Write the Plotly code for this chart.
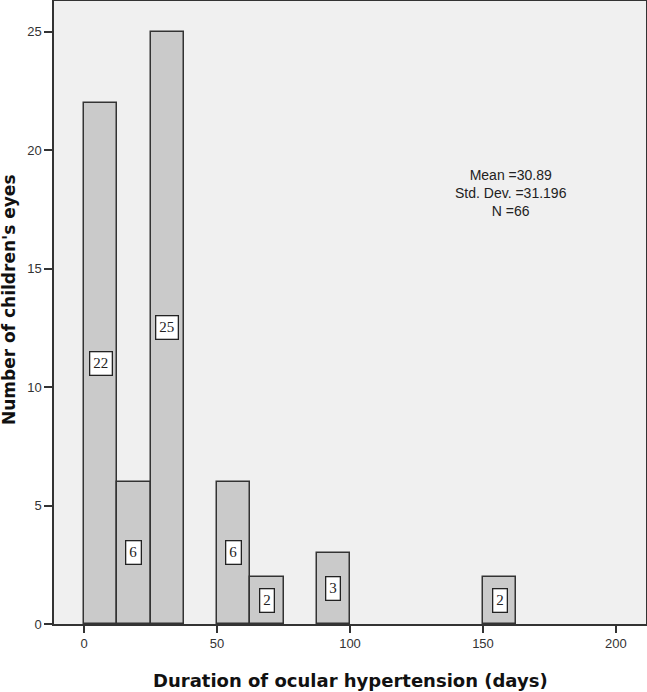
import plotly.graph_objects as go

bin_width = 12.5
bin_starts = [0, 12.5, 25, 37.5, 50, 62.5, 75, 87.5, 100, 112.5, 125, 137.5, 150]
counts = [22, 6, 25, 0, 6, 2, 0, 3, 0, 0, 0, 0, 2]
x_ticks = [0, 50, 100, 150, 200]
y_ticks = [0, 5, 10, 15, 20, 25]
stats_text = "Mean =30.89<br>Std. Dev. =31.196<br>N =66"
x_title = "Duration of ocular hypertension (days)"
y_title = "Number of children's eyes"

xs = [s + bin_width / 2 for s, c in zip(bin_starts, counts) if c > 0]
ys = [c for c in counts if c > 0]

fig = go.Figure()
fig.add_trace(go.Bar(
    x=xs, y=ys, width=bin_width,
    marker=dict(color="#cacaca", line=dict(color="#333333", width=1.5)),
    hoverinfo="skip", showlegend=False,
))

for x, y in zip(xs, ys):
    fig.add_annotation(
        x=x, y=y / 2, text=str(y), showarrow=False,
        font=dict(family="Liberation Serif", size=15, color="#222"),
        bgcolor="white", bordercolor="#222", borderwidth=1.3, borderpad=3,
    )

fig.add_annotation(
    x=160.5, y=18.2, text=stats_text, showarrow=False,
    font=dict(family="Liberation Sans", size=14, color="#222"),
    align="center",
)

fig.add_annotation(
    xref="paper", yref="paper", x=0.5, y=0, yanchor="middle", yshift=-56,
    text="<b>" + x_title + "</b>", showarrow=False,
    font=dict(family="DejaVu Sans", size=18, color="#111"),
)
fig.add_annotation(
    xref="paper", yref="paper", x=0, y=0.52, xanchor="center", yanchor="middle",
    xshift=-45, textangle=-90,
    text="<b>" + y_title + "</b>", showarrow=False,
    font=dict(family="DejaVu Sans", size=17, color="#111"),
)

fig.update_layout(
    width=647, height=692,
    margin=dict(l=54, r=1, t=1, b=68),
    paper_bgcolor="white", plot_bgcolor="#f0f0f0",
    bargap=0,
    xaxis=dict(
        range=[-11.3, 211.3], tickvals=x_ticks, ticks="outside", ticklen=7,
        tickcolor="#333", tickwidth=1.5, automargin=False,
        tickfont=dict(family="Liberation Sans", size=13, color="#333"),
        showgrid=False, zeroline=False, showline=True, linecolor="#333",
        linewidth=1.5, mirror=True,
    ),
    yaxis=dict(
        range=[0, 26.3], tickvals=y_ticks, ticks="outside", ticklen=8,
        tickcolor="#333", tickwidth=1.5, automargin=False,
        tickfont=dict(family="Liberation Sans", size=13, color="#333"),
        showgrid=False, zeroline=False, showline=True, linecolor="#333",
        linewidth=1.5, mirror=True,
    ),
)

post = (
    "document.body.style.margin='0';"
    "document.body.style.overflow='hidden';"
    "var gd=document.getElementById('{plot_id}');"
    "Plotly.relayout(gd,{width:647,height:692});"
)
fig.write_html("out.html", post_script=post,
               config={"responsive": False, "displayModeBar": False})
